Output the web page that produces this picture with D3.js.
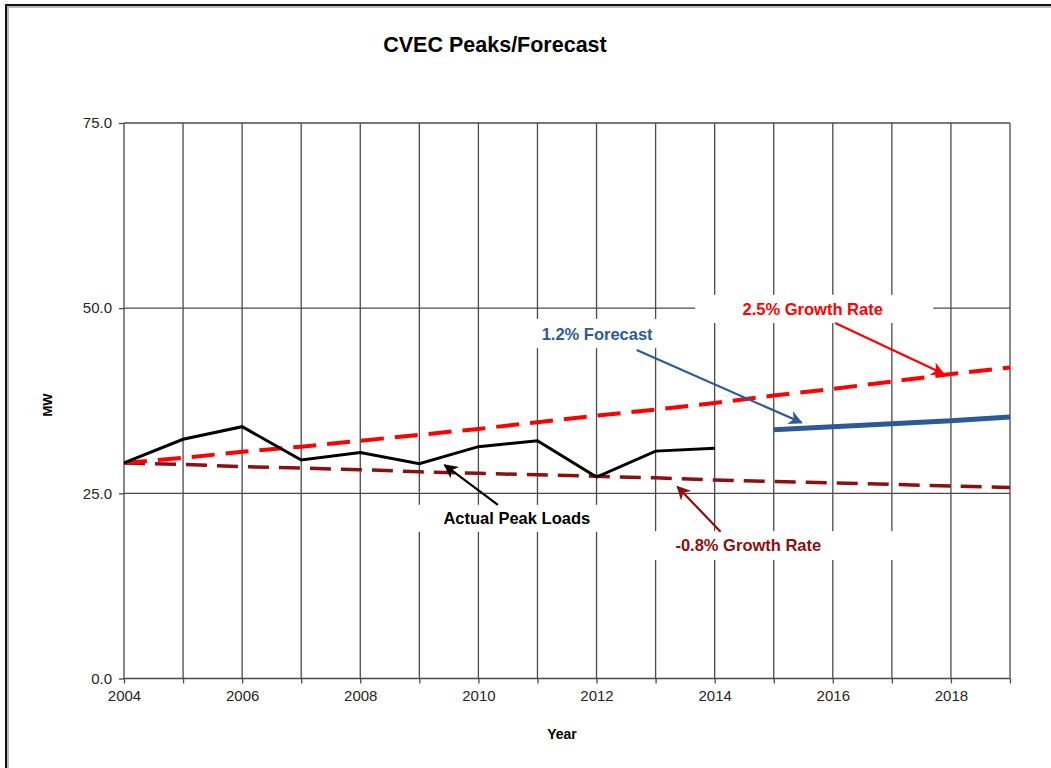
<!DOCTYPE html>
<html>
<head>
<meta charset="utf-8">
<script src="https://cdn.jsdelivr.net/npm/d3@7"></script>
<style>
  body { margin: 0; background: #fff; }
  svg { display: block; font-family: Arial, 'Liberation Sans', sans-serif; }
  .grid line { stroke: #4a4a4a; stroke-width: 1.3; }
  .axis text { fill: #262626; font-size: 15px; }
  .axis line { stroke: #4a4a4a; stroke-width: 1.3; }
  .axis path { display: none; }
</style>
</head>
<body>
<div id="chart"></div>
<script>
// SVG dimensions
var w = 1051;
var h = 768;
var margin = { top: 123, right: 41, bottom: 89.5, left: 124 };

// Data
var years = [2004, 2005, 2006, 2007, 2008, 2009, 2010, 2011, 2012, 2013, 2014, 2015, 2016, 2017, 2018, 2019];
var actualYears = [2004, 2005, 2006, 2007, 2008, 2009, 2010, 2011, 2012, 2013, 2014];
var actualPeaks = [29.1, 32.3, 34.0, 29.5, 30.5, 29.0, 31.3, 32.1, 27.2, 30.7, 31.1];
var forecastYears = [2015, 2016, 2017, 2018, 2019];
var forecast12 = [33.6, 34.0, 34.4, 34.8, 35.3];
var growth25 = [29.1, 29.8, 30.6, 31.3, 32.1, 32.9, 33.7, 34.6, 35.5, 36.3, 37.2, 38.2, 39.1, 40.1, 41.1, 42.0];
var growthNeg08 = [29.1, 28.9, 28.6, 28.4, 28.2, 27.9, 27.7, 27.5, 27.3, 27.1, 26.8, 26.6, 26.4, 26.2, 26.0, 25.8];
var yTicks = [0, 25, 50, 75];
var xLabelYears = [2004, 2006, 2008, 2010, 2012, 2014, 2016, 2018];

// Callouts, positioned in data units (year, MW)
var callouts = [
  { text: '2.5% Growth Rate', color: '#ff0000', tx: 2015.66, ty: 49.1,
    box: [2013.67, 2017.70, 48.0, 51.8], arrow: [2016.04, 48.0, 2017.88, 41.1] },
  { text: '1.2% Forecast', color: '#2d5a96', tx: 2012.01, ty: 45.7,
    box: [2010.70, 2013.33, 44.6, 48.55], arrow: [2012.68, 44.35, 2015.47, 34.55] },
  { text: 'Actual Peak Loads', color: '#000000', tx: 2010.65, ty: 20.9,
    box: [2008.76, 2012.48, 19.8, 23.45], arrow: [2010.33, 23.45, 2009.43, 28.8] },
  { text: '-0.8% Growth Rate', color: '#8b1010', tx: 2014.57, ty: 17.25,
    box: [2012.40, 2017.22, 16.0, 19.9], arrow: [2014.10, 19.8, 2013.37, 25.9] }
];

var svg = d3.select('#chart')
  .append('svg')
  .attr('width', w)
  .attr('height', h);

// Outer frame (top + left edge with soft shadow)
svg.append('path')
  .attr('d', `M8,${h} V7 H${w}`)
  .attr('fill', 'none')
  .attr('stroke', '#bbb')
  .attr('stroke-width', 2);
svg.append('path')
  .attr('d', `M6,${h} V5 H${w}`)
  .attr('fill', 'none')
  .attr('stroke', '#111')
  .attr('stroke-width', 2);

// Scales
var xScale = d3.scaleLinear()
  .domain([2004, 2019])
  .range([margin.left, w - margin.right]);

var yScale = d3.scaleLinear()
  .domain([0, 75])
  .range([h - margin.bottom, margin.top]);

// Grid lines
var grid = svg.append('g').attr('class', 'grid');
grid.selectAll('.vline')
  .data(years)
  .enter()
  .append('line')
  .attr('class', 'vline')
  .attr('x1', d => xScale(d))
  .attr('x2', d => xScale(d))
  .attr('y1', yScale(75))
  .attr('y2', yScale(0));
grid.selectAll('.hline')
  .data(yTicks)
  .enter()
  .append('line')
  .attr('class', 'hline')
  .attr('x1', xScale(2004))
  .attr('x2', xScale(2019))
  .attr('y1', d => yScale(d))
  .attr('y2', d => yScale(d));

// Axes
var xAxis = d3.axisBottom(xScale)
  .tickValues(years)
  .tickSize(5)
  .tickPadding(7)
  .tickFormat(d => xLabelYears.indexOf(d) >= 0 ? d : '');
svg.append('g')
  .attr('class', 'axis')
  .attr('transform', `translate(0, ${yScale(0)})`)
  .call(xAxis);

var yAxis = d3.axisLeft(yScale)
  .tickValues(yTicks)
  .tickSize(5)
  .tickPadding(7)
  .tickFormat(d3.format('.1f'));
svg.append('g')
  .attr('class', 'axis')
  .attr('transform', `translate(${xScale(2004)}, 0)`)
  .call(yAxis);

// White label boxes hide the grid behind the callout texts
svg.selectAll('.label-box')
  .data(callouts)
  .enter()
  .append('rect')
  .attr('class', 'label-box')
  .attr('x', d => xScale(d.box[0]))
  .attr('y', d => yScale(d.box[3]))
  .attr('width', d => xScale(d.box[1]) - xScale(d.box[0]))
  .attr('height', d => yScale(d.box[2]) - yScale(d.box[3]))
  .attr('fill', '#fff');

// Series
var line = d3.line()
  .x(d => xScale(d[0]))
  .y(d => yScale(d[1]));

svg.append('path')
  .datum(years.map((y, i) => [y, growthNeg08[i]]))
  .attr('d', line)
  .attr('fill', 'none')
  .attr('stroke', '#8b1010')
  .attr('stroke-width', 3.5)
  .attr('stroke-dasharray', '21,10');

svg.append('path')
  .datum(years.map((y, i) => [y, growth25[i]]))
  .attr('d', line)
  .attr('fill', 'none')
  .attr('stroke', '#ff0000')
  .attr('stroke-width', 4)
  .attr('stroke-dasharray', '23,11');

svg.append('path')
  .datum(actualYears.map((y, i) => [y, actualPeaks[i]]))
  .attr('d', line)
  .attr('fill', 'none')
  .attr('stroke', '#000')
  .attr('stroke-width', 3)
  .attr('stroke-linejoin', 'miter');

svg.append('path')
  .datum(forecastYears.map((y, i) => [y, forecast12[i]]))
  .attr('d', line)
  .attr('fill', 'none')
  .attr('stroke', '#2d5a96')
  .attr('stroke-width', 5);

// Arrow markers, one per colour
var defs = svg.append('defs');
callouts.forEach((c, i) => {
  defs.append('marker')
    .attr('id', 'arrow' + i)
    .attr('viewBox', '0 0 10 10')
    .attr('refX', 9)
    .attr('refY', 5)
    .attr('markerWidth', 14)
    .attr('markerHeight', 14)
    .attr('markerUnits', 'userSpaceOnUse')
    .attr('orient', 'auto')
    .append('path')
    .attr('d', 'M0,0 L10,5 L0,10 L3,5 Z')
    .attr('fill', c.color);
});

svg.selectAll('.callout-arrow')
  .data(callouts)
  .enter()
  .append('line')
  .attr('class', 'callout-arrow')
  .attr('x1', d => xScale(d.arrow[0]))
  .attr('y1', d => yScale(d.arrow[1]))
  .attr('x2', d => xScale(d.arrow[2]))
  .attr('y2', d => yScale(d.arrow[3]))
  .attr('stroke', d => d.color)
  .attr('stroke-width', 2.2)
  .attr('marker-end', (d, i) => `url(#arrow${i})`);

svg.selectAll('.callout-text')
  .data(callouts)
  .enter()
  .append('text')
  .attr('class', 'callout-text')
  .attr('x', d => xScale(d.tx))
  .attr('y', d => yScale(d.ty))
  .attr('text-anchor', 'middle')
  .attr('font-size', 16.5)
  .attr('font-weight', 'bold')
  .attr('fill', d => d.color)
  .text(d => d.text);

// Titles
svg.append('text')
  .attr('x', 495)
  .attr('y', 52)
  .attr('text-anchor', 'middle')
  .attr('font-size', 21.5)
  .attr('font-weight', 'bold')
  .text('CVEC Peaks/Forecast');

svg.append('text')
  .attr('x', 562)
  .attr('y', 739)
  .attr('text-anchor', 'middle')
  .attr('font-size', 14)
  .attr('font-weight', 'bold')
  .text('Year');

svg.append('text')
  .attr('transform', 'translate(52, 405) rotate(-90)')
  .attr('text-anchor', 'middle')
  .attr('font-size', 13)
  .attr('font-weight', 'bold')
  .text('MW');
</script>
</body>
</html>
